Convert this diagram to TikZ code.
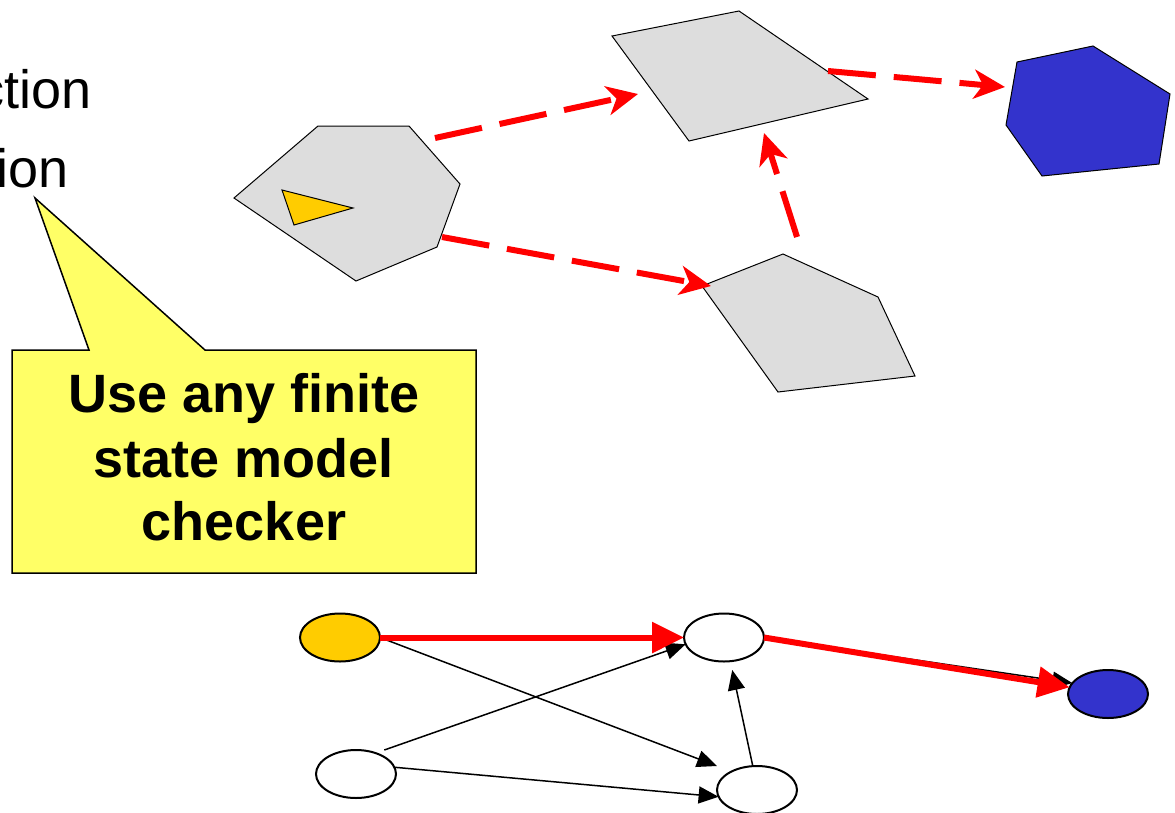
\documentclass[tikz,border=0pt]{standalone}
\usepackage{fontspec}
\setmainfont{Liberation Sans}
\usetikzlibrary{arrows.meta,shapes.geometric,calc}
\definecolor{regiongray}{HTML}{DDDDDD}
\definecolor{initgold}{HTML}{FFCC00}
\definecolor{targetblue}{HTML}{3333CC}
\definecolor{notepaper}{HTML}{FFFF66}
\begin{document}
\begin{tikzpicture}[x=1pt,y=-1pt,
  region/.style={draw=black, line width=1pt, fill=regiongray},
  flow/.style={draw=red, line width=6pt, line cap=butt, dash pattern=on 48pt off 18pt,
    -{Stealth[length=31pt,width=29pt,inset=9pt]}},
  state/.style={ellipse, draw=black, line width=2pt, minimum width=80pt,
    minimum height=48pt, inner sep=0pt, outer sep=0pt},
  trans/.style={draw=black, line width=1.5pt, -{Triangle[length=20pt,width=17pt]}},
  witness/.style={draw=red, line width=6pt, -{Triangle[length=32pt,width=30pt]}},
  bigtext/.style={font=\fontsize{54}{64}\selectfont},
  notetext/.style={font=\fontsize{54}{64}\selectfont\bfseries, anchor=base},
]
\useasboundingbox (0,0) rectangle (1175,812);

% words running off the left edge
\node[bigtext, anchor=base east, inner sep=0pt] (w1) at (92,108) {ction};
\node[bigtext, anchor=base east, inner sep=0pt] (w2) at (69,187) {ion};

% callout
\draw[fill=notepaper, line width=1.5pt, line join=miter]
  (12,350) -- (89,350) -- (35,198) -- (205,350) -- (476,350)
  -- (476,573) -- (12,573) -- cycle;
\node[notetext] (n1) at (244,412) {Use any finite};
\node[notetext] (n2) at (244,477) {state model};
\node[notetext] (n3) at (244,540) {checker};

% abstract regions
\draw[region] (318,126) -- (409,126) -- (460,184) -- (437,247) -- (356,281) -- (234,198) -- cycle;
\draw[draw=black, line width=1pt, fill=initgold] (282,190) -- (353,208) -- (294,225) -- cycle;
\draw[region] (612,36) -- (739,11) -- (868,99) -- (689,141) -- cycle;
\draw[region] (702,286) -- (783,254) -- (878,297) -- (915,376) -- (778,392) -- cycle;
\draw[draw=black, line width=1pt, fill=targetblue]
  (1017,62) -- (1093,46) -- (1170,94) -- (1159,164) -- (1042,176) -- (1006,125) -- cycle;

% abstract transitions
\coordinate (r1out) at (435,138);
\coordinate (r2in) at (638,94);
\coordinate (r1low) at (442,237);
\coordinate (r3in) at (711,286);
\coordinate (r3out) at (797,237);
\coordinate (r2low) at (764,133);
\coordinate (r2out) at (828,71);
\coordinate (r4in) at (1005,87);
\draw[flow] (r1out) -- (r2in);
\draw[flow] (r1low) -- (r3in);
\draw[flow] (r3out) -- (r2low);
\draw[flow] (r2out) -- (r4in);

% concrete states
\node[state, fill=initgold] (s0) at (340,637.5) {};
\node[state, fill=white] (s1) at (724,637.5) {};
\node[state, fill=white] (s2) at (356,774) {};
\node[state, fill=white] (s3) at (757,790) {};
\node[state, fill=targetblue] (s4) at (1108,694) {};

% concrete transitions
\draw[trans] (s0.east) -- (s3.west |- s3.north);
\draw[trans] (s2.north east |- s2.north) -- (s1.190);
\draw[trans] (s2.10) -- (s3.190);
\draw[trans, shorten >=9pt] (s3.100) -- (s1.-75);
\draw[trans] (s1.east) -- (s4.163);

% counterexample path
\draw[witness] (s0.east) -- (s1.west);
\draw[witness] (s1.east) -- (s4.170);
\end{tikzpicture}
\end{document}
